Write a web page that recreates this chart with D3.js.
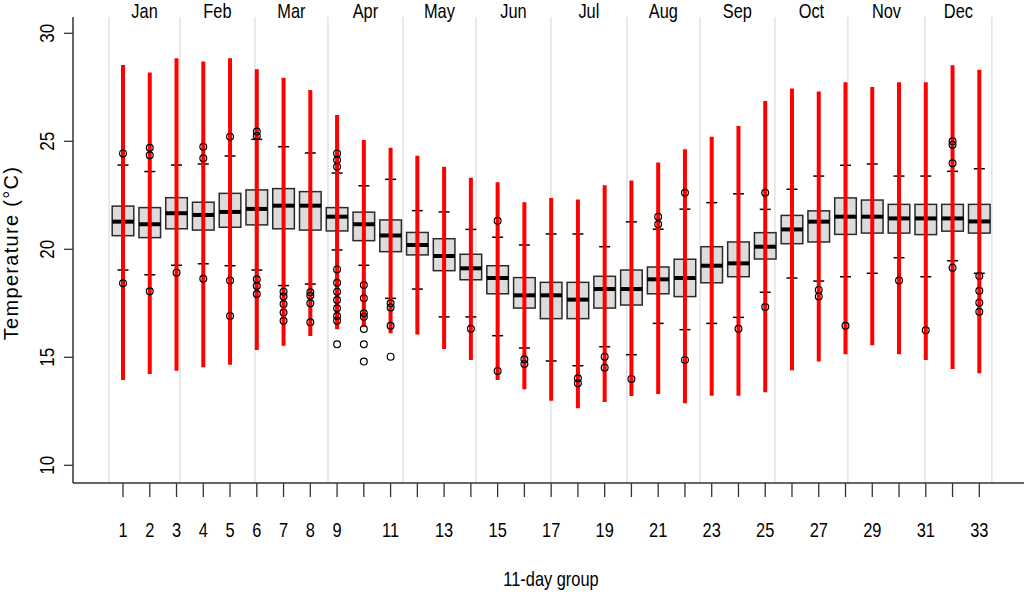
<!DOCTYPE html>
<html>
<head>
<meta charset="utf-8">
<script src="https://cdn.jsdelivr.net/npm/d3@7"></script>
<style>
  body { margin: 0; background: #fff; }
  svg text { font-family: "Liberation Sans", Arial, sans-serif; fill: #000; }
</style>
</head>
<body>
<svg id="chart" width="1024" height="596"></svg>
<script>
// values (°C)
const groups = d3.range(1, 34);
const q1 = [20.63, 20.54, 20.95, 20.89, 21.02, 21.13, 20.95, 20.89, 20.85, 20.40, 19.89, 19.74, 19.01, 18.59, 17.94, 17.28, 16.79,
            16.79, 17.28, 17.42, 17.94, 17.81, 18.45, 18.73, 19.55, 20.26, 20.34, 20.69, 20.75, 20.75, 20.68, 20.84, 20.75];
const medians = [21.28, 21.16, 21.67, 21.59, 21.73, 21.87, 22.02, 22.02, 21.51, 21.16, 20.64, 20.20, 19.69, 19.12, 18.67, 17.87, 17.87,
                 17.67, 18.16, 18.16, 18.61, 18.67, 19.24, 19.35, 20.12, 20.92, 21.28, 21.51, 21.51, 21.43, 21.43, 21.43, 21.29];
const q3 = [22.00, 21.93, 22.39, 22.18, 22.59, 22.75, 22.81, 22.67, 21.93, 21.72, 21.36, 20.78, 20.49, 19.77, 19.24, 18.69, 18.47,
            18.47, 18.75, 19.04, 19.18, 19.54, 20.12, 20.34, 20.77, 21.57, 21.78, 22.38, 22.28, 22.08, 22.08, 22.08, 22.08];
const whiskerLow = [19.04, 18.82, 19.26, 19.33, 19.24, 19.04, 18.32, 18.39, 19.97, 19.26, 17.73, 18.16, 16.87, 16.87, 16.00, 15.43, 14.83,
                    14.61, 15.49, 15.12, 16.57, 16.28, 16.57, 16.85, 18.01, 18.67, 18.53, 18.73, 18.89, 19.61, 18.73, 19.47, 18.89];
const whiskerHigh = [23.90, 23.60, 23.90, 23.95, 24.32, 25.09, 24.75, 24.46, 23.53, 22.94, 23.24, 21.79, 21.73, 20.92, 20.56, 20.20, 20.71,
                     20.71, 20.12, 21.27, 20.93, 21.86, 22.16, 22.57, 21.85, 22.78, 23.39, 23.89, 23.95, 23.39, 23.39, 23.61, 23.73];
const rangeLow = [13.95, 14.23, 14.38, 14.54, 14.66, 15.34, 15.54, 15.99, 16.30, 16.42, 16.11, 16.06, 15.38, 14.88, 13.95, 13.52, 12.99,
                  12.64, 12.93, 13.21, 13.30, 12.87, 13.22, 13.22, 13.38, 14.40, 14.81, 15.14, 15.56, 15.14, 14.88, 14.46, 14.26];
const rangeHigh = [28.53, 28.18, 28.84, 28.69, 28.84, 28.33, 27.94, 27.38, 26.22, 25.06, 24.70, 24.33, 23.82, 23.31, 23.10, 22.18, 22.38,
                   22.31, 22.96, 23.18, 24.02, 24.63, 25.21, 25.71, 26.87, 27.45, 27.31, 27.73, 27.51, 27.73, 27.73, 28.52, 28.31];
const outliers = [
  [24.44, 18.43], [24.70, 24.35, 18.06], [18.92], [24.75, 24.21, 18.64], [25.21, 18.55, 16.91],
  [25.45, 25.25, 18.61, 18.30, 17.93], [18.04, 17.81, 17.47, 17.07, 16.69], [18.01, 17.85, 17.50, 16.62],
  [24.44, 24.13, 23.82, 19.07, 18.45, 18.04, 17.65, 17.27, 16.91, 16.69, 15.60],
  [18.35, 17.73, 17.04, 16.88, 16.31, 15.60, 14.80], [17.50, 17.31, 16.46, 15.03], [], [], [16.32],
  [21.32, 14.37], [14.91, 14.69], [], [14.03, 13.80], [15.03, 14.52], [14.00], [21.51, 21.16],
  [22.62, 14.88], [], [16.32], [22.62, 17.33], [], [18.12, 17.81], [16.46], [], [18.55], [16.25],
  [25.00, 24.84, 23.98, 19.15], [18.76, 18.08, 17.53, 17.11]
];
const months = ["Jan", "Feb", "Mar", "Apr", "May", "Jun", "Jul", "Aug", "Sep", "Oct", "Nov", "Dec"];
// month boundaries in group units
const monthEdges = [0.48, 3.13, 5.93, 8.66, 11.46, 14.19, 16.99, 19.83, 22.56, 25.36, 28.09, 30.97, 33.47];
const xTicks = groups;
const xTickLabels = [1, 2, 3, 4, 5, 6, 7, 8, 9, 11, 13, 15, 17, 19, 21, 23, 25, 27, 29, 31, 33];
const yTicks = [10, 15, 20, 25, 30];

const svg = d3.select("#chart");
const plotLeft = 73, plotBottom = 483, plotTop = 17;
const narrow = 0.82; // reference text is set in a narrow face

const x = d3.scaleLinear().domain([1, 33]).range([123, 979.3]);
const y = d3.scaleLinear().domain([10, 30]).range([465.3, 33.3]);

const boxW = 21.6, tickW = 11;

// month separators
svg.append("g").selectAll("line")
  .data(monthEdges)
  .join("line")
  .attr("x1", d => x(d)).attr("x2", d => x(d))
  .attr("y1", plotTop).attr("y2", plotBottom)
  .attr("stroke", "#e2e2e2").attr("stroke-width", 1.5);

svg.append("g").selectAll("text")
  .data(months)
  .join("text")
  .attr("transform", (d, i) => "translate(" + x((monthEdges[i] + monthEdges[i + 1]) / 2) + ",18) scale(" + narrow + ",1)")
  .attr("text-anchor", "middle")
  .attr("font-size", 20)
  .text(d => d);

const data = groups.map((g, i) => ({
  g: g, q1: q1[i], med: medians[i], q3: q3[i],
  lo: whiskerLow[i], hi: whiskerHigh[i],
  rlo: rangeLow[i], rhi: rangeHigh[i], out: outliers[i]
}));

const plot = svg.append("g");

// boxes
plot.selectAll(".box")
  .data(data)
  .join("rect")
  .attr("class", "box")
  .attr("x", d => x(d.g) - boxW / 2)
  .attr("width", boxW)
  .attr("y", d => y(d.q3))
  .attr("height", d => y(d.q1) - y(d.q3))
  .attr("fill", "#dcdcdc")
  .attr("stroke", "#2a2a2a")
  .attr("stroke-width", 1.5);

// medians
plot.selectAll(".median")
  .data(data)
  .join("line")
  .attr("class", "median")
  .attr("x1", d => x(d.g) - boxW / 2).attr("x2", d => x(d.g) + boxW / 2)
  .attr("y1", d => y(d.med)).attr("y2", d => y(d.med))
  .attr("stroke", "#000").attr("stroke-width", 4);

// whisker ends
["lo", "hi"].forEach(k => {
  plot.selectAll(".wh-" + k)
    .data(data)
    .join("line")
    .attr("class", "wh-" + k)
    .attr("x1", d => x(d.g) - tickW / 2).attr("x2", d => x(d.g) + tickW / 2)
    .attr("y1", d => y(d[k])).attr("y2", d => y(d[k]))
    .attr("stroke", "#000").attr("stroke-width", 1.5);
});

// red range lines
plot.selectAll(".range")
  .data(data)
  .join("line")
  .attr("class", "range")
  .attr("x1", d => x(d.g)).attr("x2", d => x(d.g))
  .attr("y1", d => y(d.rlo)).attr("y2", d => y(d.rhi))
  .attr("stroke", "#ff0000").attr("stroke-width", 4);

// outliers
plot.selectAll(".outs")
  .data(data)
  .join("g")
  .attr("class", "outs")
  .selectAll("circle")
  .data(d => d.out.map(v => ({ g: d.g, v: v })))
  .join("circle")
  .attr("cx", d => x(d.g))
  .attr("cy", d => y(d.v))
  .attr("r", 3.4)
  .attr("fill", "none")
  .attr("stroke", "#000")
  .attr("stroke-width", 1.2);

// axes
svg.append("line")
  .attr("x1", plotLeft).attr("x2", 1024)
  .attr("y1", plotBottom).attr("y2", plotBottom)
  .attr("stroke", "#333").attr("stroke-width", 1.5);
svg.append("line")
  .attr("x1", plotLeft).attr("x2", plotLeft)
  .attr("y1", plotTop).attr("y2", plotBottom)
  .attr("stroke", "#333").attr("stroke-width", 1.5);

svg.append("g").selectAll("line")
  .data(xTicks)
  .join("line")
  .attr("x1", d => x(d)).attr("x2", d => x(d))
  .attr("y1", plotBottom).attr("y2", plotBottom + 14)
  .attr("stroke", "#333").attr("stroke-width", 1.3);

svg.append("g").selectAll("text")
  .data(xTickLabels)
  .join("text")
  .attr("transform", d => "translate(" + x(d) + ",537) scale(" + narrow + ",1)")
  .attr("text-anchor", "middle")
  .attr("font-size", 20)
  .text(d => d);

svg.append("g").selectAll("line")
  .data(yTicks)
  .join("line")
  .attr("x1", plotLeft - 9).attr("x2", plotLeft)
  .attr("y1", d => y(d)).attr("y2", d => y(d))
  .attr("stroke", "#333").attr("stroke-width", 1.3);

svg.append("g").selectAll("text")
  .data(yTicks)
  .join("text")
  .attr("transform", d => "translate(54," + y(d) + ") rotate(-90) scale(0.85,1)")
  .attr("text-anchor", "middle")
  .attr("font-size", 20)
  .text(d => d);

svg.append("text")
  .attr("transform", "translate(" + 551 + ",586) scale(" + narrow + ",1)")
  .attr("text-anchor", "middle")
  .attr("font-size", 20)
  .text("11-day group");

svg.append("text")
  .attr("transform", "translate(18,253) rotate(-90)")
  .attr("text-anchor", "middle")
  .attr("font-size", 20)
  .attr("letter-spacing", 1.3)
  .text("Temperature (°C)");
</script>
</body>
</html>
